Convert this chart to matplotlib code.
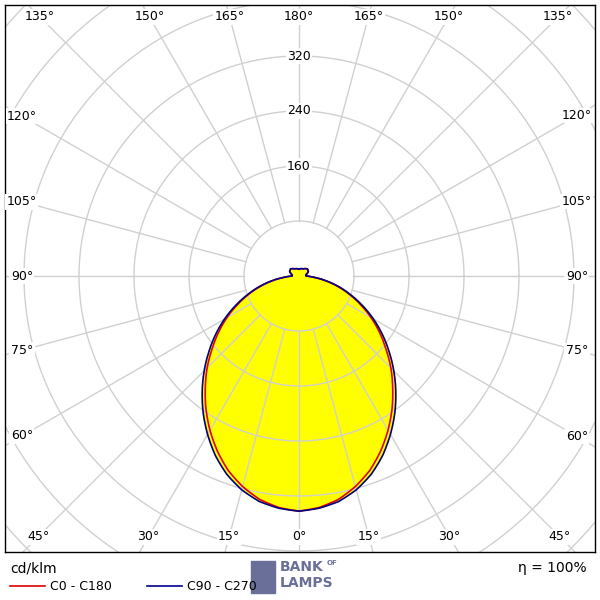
import numpy as np
import matplotlib
matplotlib.use("Agg")
import matplotlib.pyplot as plt

angles = [0, 5, 10, 15, 20, 25, 30, 35, 40, 45, 50, 55, 60, 65, 70, 75, 80, 85, 90, 100, 115, 130, 150, 180]
c0_c180 = [342, 338, 330, 317, 301, 281, 259, 236, 212, 189, 165, 143, 121, 99, 78, 58, 39, 21, 10, 10, 15, 16, 12, 10]
c90_c270 = [342, 339, 333, 322, 307, 288, 266, 243, 219, 195, 171, 148, 125, 102, 80, 60, 40, 22, 10, 10, 15, 16, 12, 10]
ring_values = [80, 160, 240, 320, 400, 480, 560, 640]
ring_labels = [160, 240, 320]

fig = plt.figure(figsize=(6, 6), dpi=100)
ax = fig.add_axes([5/600, 48/600, 590/600, 547/600])
S = 0.6875
ax.set_xlim((5-299)/S, (595-299)/S)
ax.set_ylim(-(552-276)/S, (276-5)/S)
ax.set_xticks([]); ax.set_yticks([])
for s in ax.spines.values():
    s.set_linewidth(1.0); s.set_color('black')

def curve(vals):
    a = np.radians(np.array(angles, float))
    v = np.array(vals, float)
    full_a = np.concatenate([-a[::-1], a[1:]])
    full_v = np.concatenate([v[::-1], v[1:]])
    fa = np.linspace(-np.pi, np.pi, 1441)
    fv = np.interp(fa, full_a, full_v)
    return fv*np.sin(fa), -fv*np.cos(fa)

xr, yr = curve(c0_c180)
xb, yb = curve(c90_c270)
ax.fill(xb, yb, color='#ffff00', zorder=1)
ax.fill(xr, yr, color='#ffff00', zorder=1)

t = np.linspace(0, 2*np.pi, 400)
for rv in ring_values:
    ax.plot(rv*np.cos(t), rv*np.sin(t), color='#d0d0d0', lw=1, zorder=2)
for d in range(0, 360, 15):
    a = np.radians(d)
    ax.plot([80*np.sin(a), 900*np.sin(a)], [-80*np.cos(a), -900*np.cos(a)],
            color='#d0d0d0', lw=1, zorder=2)

ax.plot(xr, yr, color='#e00000', lw=1.2, zorder=3)
ax.plot(xb, yb, color='#000090', lw=1.2, zorder=4)

bb = dict(facecolor='white', edgecolor='none', pad=1)
for rv in ring_labels:
    ax.text(0, rv, str(rv), ha='center', va='center', fontsize=9, bbox=bb, zorder=5)

xl, xrr = (22-299)/S, (577-299)/S
yt, ybm = (276-17)/S, -(537-276)/S
for d in range(0, 181, 15):
    for sgn in (1, -1):
        if d in (0, 180) and sgn == -1:
            continue
        a = np.radians(d)
        dx, dy = sgn*np.sin(a), -np.cos(a)
        cands = []
        if dx > 1e-9: cands.append(xrr/dx)
        if dx < -1e-9: cands.append(xl/dx)
        if dy > 1e-9: cands.append(yt/dy)
        if dy < -1e-9: cands.append(ybm/dy)
        k = min(cands)
        ax.text(k*dx, k*dy, f"{d}°", ha='center', va='center', fontsize=9,
                bbox=bb, zorder=5)

fig.text(10/600, 1-568/600, "cd/klm", fontsize=10, va='center')
fig.add_artist(plt.Line2D([10/600, 45/600], [1-586/600]*2, color='#e00000', lw=1.2))
fig.text(50/600, 1-586/600, "C0 - C180", fontsize=9, va='center')
fig.add_artist(plt.Line2D([147/600, 182/600], [1-586/600]*2, color='#000090', lw=1.2))
fig.text(187/600, 1-586/600, "C90 - C270", fontsize=9, va='center')
fig.text(587/600, 1-568/600, "η = 100%", fontsize=10, va='center', ha='right')
fig.text(280/600, 1-567/600, "BANK", fontsize=10, fontweight='bold', color='#6a6f9a', va='center')
fig.text(280/600, 1-583/600, "LAMPS", fontsize=10, fontweight='bold', color='#6a6f9a', va='center')
fig.text(327/600, 1-563/600, "OF", fontsize=5, fontweight='bold', color='#6a6f9a', va='center')
fig.add_artist(plt.Rectangle((251/600, 1-593/600), 24/600, 32/600, color='#6a6f9a'))
fig.savefig("out.png", dpi=100)
